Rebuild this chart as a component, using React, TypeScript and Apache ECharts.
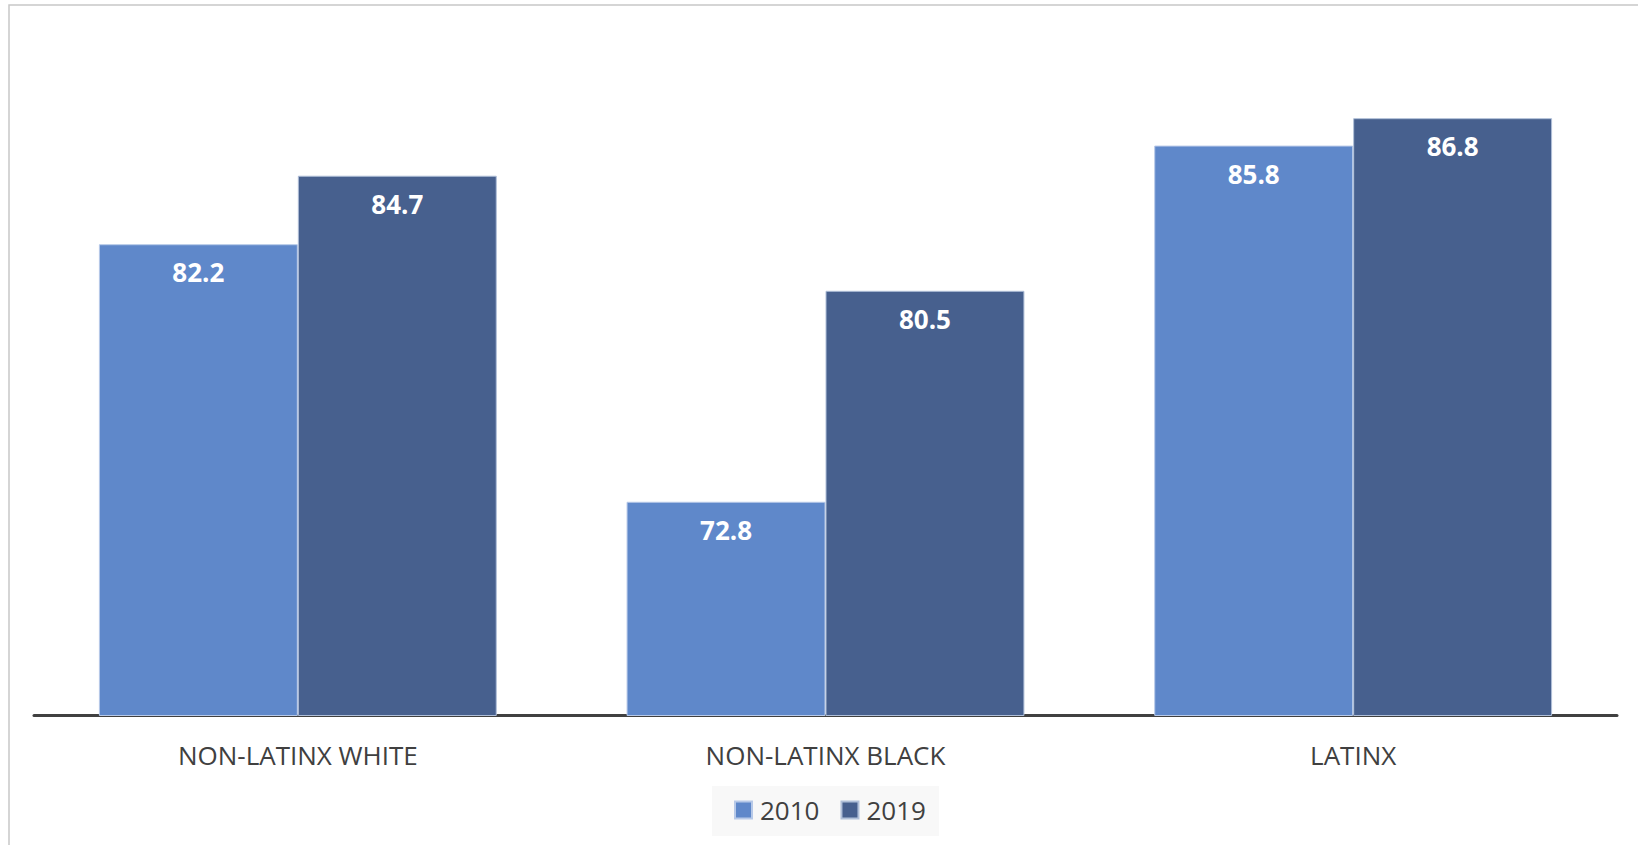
import React, { useEffect, useRef } from "react";
import * as echarts from "echarts";

const categories = ["NON-LATINX WHITE", "NON-LATINX BLACK", "LATINX"];
const seriesNames = ["2010", "2019"];
const values2010 = [82.2, 72.8, 85.8];
const values2019 = [84.7, 80.5, 86.8];
const colors = ["#5F88CA", "#47608E"];

export default function App() {
  const ref = useRef<HTMLDivElement>(null);
  useEffect(() => {
    if (!ref.current) return;
    const chart = echarts.init(ref.current, null, { renderer: "svg" });
    const font = "'Open Sans', 'Noto Sans', sans-serif";
    const label = {
      show: true,
      position: "insideTop",
      distance: 15,
      color: "#ffffff",
      fontWeight: "bold",
      fontSize: 26,
      lineHeight: 26,
      fontFamily: font,
      formatter: (p: any) => Number(p.value).toFixed(1),
    };
    chart.setOption({
      animation: false,
      backgroundColor: "#ffffff",
      graphic: [
        {
          type: "rect",
          z: -10,
          shape: { x: 9, y: 5, width: 1640, height: 850 },
          style: { fill: "none", stroke: "#c8c8c8", lineWidth: 1.5 },
          silent: true,
        },
        {
          type: "rect",
          z: -10,
          shape: { x: 712, y: 786, width: 227, height: 50 },
          style: { fill: "#f8f8f8" },
          silent: true,
        },
      ],
      grid: { left: 34, right: 21, top: 30.5, bottom: 129.5, containLabel: false },
      legend: {
        data: seriesNames,
        left: 734,
        top: 797,
        padding: 0,
        itemWidth: 17,
        itemHeight: 17,
        itemGap: 21,
        icon: "rect",
        textStyle: { fontSize: 26, color: "#404040", fontFamily: font, padding: [0, 0, 0, 3] },
      },
      xAxis: {
        type: "category",
        data: categories,
        axisLine: { show: true, lineStyle: { color: "#404040", width: 3 } },
        axisTick: { show: false },
        axisLabel: {
          fontSize: 26,
          color: "#404040",
          fontFamily: font,
          margin: 26,
          lineHeight: 26,
        },
      },
      yAxis: {
        type: "value",
        min: 65,
        max: 90,
        show: false,
        splitLine: { show: false },
      },
      series: [
        {
          name: seriesNames[0],
          type: "bar",
          data: values2010,
          barGap: "0%",
          barCategoryGap: "24.6%",
          itemStyle: { color: colors[0], borderColor: "#b7c9e8", borderWidth: 1 },
          label,
        },
        {
          name: seriesNames[1],
          type: "bar",
          data: values2019,
          barGap: "0%",
          barCategoryGap: "24.6%",
          itemStyle: { color: colors[1], borderColor: "#b0bfd8", borderWidth: 1 },
          label,
        },
      ],
    });
    return () => chart.dispose();
  }, []);
  return (
    <div
      ref={ref}
      style={{ position: "fixed", left: 0, top: 0, width: 1638, height: 845 }}
    />
  );
}
